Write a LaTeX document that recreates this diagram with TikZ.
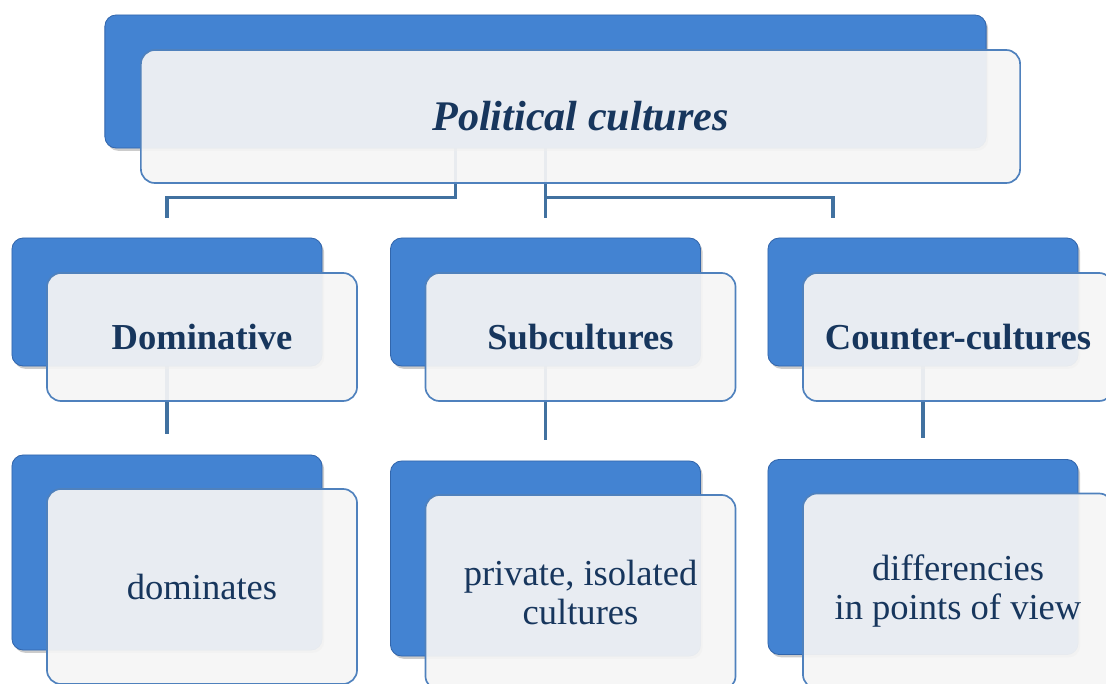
\documentclass[tikz,border=0pt]{standalone}
\usepackage{fontspec}
\setmainfont{Liberation Serif}
\usetikzlibrary{positioning,calc,shadows,backgrounds}
\definecolor{boxblue}{RGB}{67,131,210}
\definecolor{boxedge}{RGB}{50,102,172}
\definecolor{paneedge}{RGB}{79,129,189}
\definecolor{panefill}{RGB}{245,245,245}
\definecolor{linkblue}{RGB}{65,113,160}
\definecolor{textnavy}{RGB}{23,54,93}

\tikzset{
  backbox/.style={draw=boxedge, line width=0.6pt, fill=boxblue, rounded corners=8pt,
    drop shadow={shadow xshift=1.5pt, shadow yshift=-2pt, opacity=0.4}},
  pane/.style={draw=paneedge, line width=1.2pt, fill=panefill, fill opacity=0.93,
    text opacity=1, rounded corners=10pt, text=textnavy, align=center, inner sep=0pt},
  rowtwo/.style={minimum width=7.75cm, minimum height=3.2cm},
  rowthree/.style={minimum width=7.75cm, minimum height=4.875cm},
  link/.style={draw=linkblue, line width=2.2pt},
}

\begin{document}
\begin{tikzpicture}[x=0.025cm, y=-0.025cm]
  \useasboundingbox (0,0) rectangle (1106,684);
  % Top box
  \node[backbox, minimum width=22.025cm, minimum height=3.325cm] (top-b) at (545.5,81.5) {};
  \node[pane, minimum width=21.975cm, minimum height=3.325cm,
    font=\fontsize{30}{36}\selectfont\bfseries\itshape] (top) at ([shift={(35,35)}]top-b) {Political cultures};
  % Second row
  \foreach \x/\nm/\txt in {167/dom/Dominative, 545.5/sub/Subcultures, 923/cnt/Counter-cultures} {
    \node[backbox, rowtwo] (\nm-b) at (\x,302) {};
    \node[pane, rowtwo, font=\fontsize{26}{28}\selectfont\bfseries] (\nm) at ([shift={(35,35)}]\nm-b) {\txt};
  }
  % Third row
  \foreach \x/\y/\nm/\txt in {167/552.5/dom/dominates, 545.5/558.5/sub/{private, isolated\\cultures},
      923/557/cnt/{differencies\\in points of view}} {
    \node[backbox, rowthree] (\nm-l-b) at (\x,\y) {};
    \node[pane, rowthree, font=\fontsize{26}{28}\selectfont] (\nm-l) at ([shift={(35,34)}]\nm-l-b) {\txt};
  }
  % Connectors
  \begin{scope}[on background layer]
    \draw[link] ([xshift=-2.25cm]top-b.south) -- ++(0,49) -| ($(dom-b.north)+(0,-20)$);
    \draw[link] (top-b.south) -- ($(sub-b.north)+(0,-20)$);
    \draw[link] (top-b.south) ++(0,49) -| ($([xshift=-2.25cm]cnt-b.north)+(0,-20)$);
    \foreach \nm in {dom,sub,cnt}
      \draw[link] (\nm-b.south) -- ($(\nm-l-b.north)+(0,-21)$);
  \end{scope}
\end{tikzpicture}
\end{document}
